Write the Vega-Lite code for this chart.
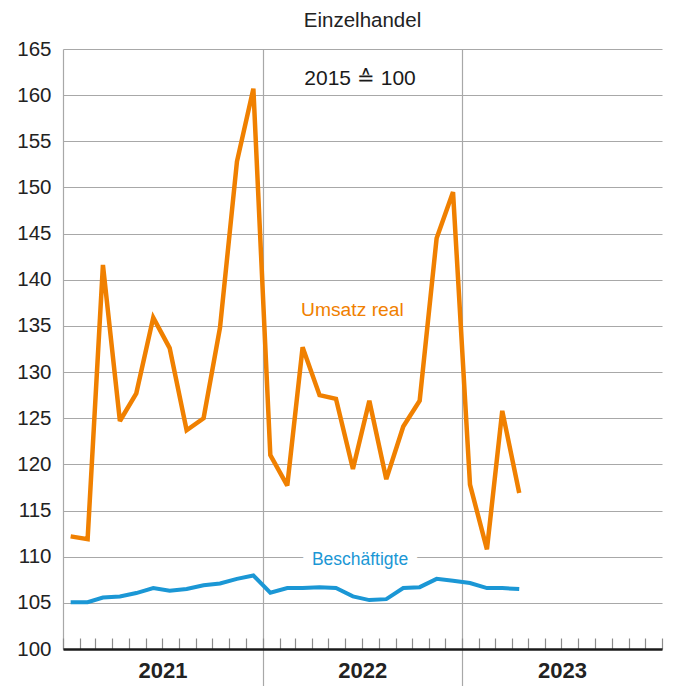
{
  "$schema": "https://vega.github.io/schema/vega-lite/v6.json",
  "width": 599,
  "height": 600,
  "autosize": {"type": "none"},
  "padding": {"left": 63, "top": 49, "right": 11, "bottom": 37},
  "background": "white",
  "config": {"font": "Liberation Sans", "view": {"stroke": null}},
  "title": {"text": "Einzelhandel", "anchor": "middle", "fontSize": 20.5, "fontWeight": "normal", "color": "#222", "offset": 8, "font": "Liberation Sans"},
  "datasets": {
    "series": [
      {"date": "2021-01-15", "umsatz": 112.2, "besch": 105.07},
      {"date": "2021-02-15", "umsatz": 111.9, "besch": 105.07},
      {"date": "2021-03-15", "umsatz": 141.6, "besch": 105.58},
      {"date": "2021-04-15", "umsatz": 124.7, "besch": 105.69},
      {"date": "2021-05-15", "umsatz": 127.7, "besch": 106.06},
      {"date": "2021-06-15", "umsatz": 135.9, "besch": 106.6},
      {"date": "2021-07-15", "umsatz": 132.6, "besch": 106.3},
      {"date": "2021-08-15", "umsatz": 123.7, "besch": 106.5},
      {"date": "2021-09-15", "umsatz": 125.0, "besch": 106.9},
      {"date": "2021-10-15", "umsatz": 134.8, "besch": 107.1},
      {"date": "2021-11-15", "umsatz": 152.8, "besch": 107.6},
      {"date": "2021-12-15", "umsatz": 160.7, "besch": 107.96},
      {"date": "2022-01-15", "umsatz": 121.0, "besch": 106.1},
      {"date": "2022-02-15", "umsatz": 117.7, "besch": 106.6},
      {"date": "2022-03-15", "umsatz": 132.7, "besch": 106.6},
      {"date": "2022-04-15", "umsatz": 127.5, "besch": 106.7},
      {"date": "2022-05-15", "umsatz": 127.1, "besch": 106.6},
      {"date": "2022-06-15", "umsatz": 119.5, "besch": 105.7},
      {"date": "2022-07-15", "umsatz": 126.9, "besch": 105.3},
      {"date": "2022-08-15", "umsatz": 118.4, "besch": 105.4},
      {"date": "2022-09-15", "umsatz": 124.1, "besch": 106.6},
      {"date": "2022-10-15", "umsatz": 126.9, "besch": 106.7},
      {"date": "2022-11-15", "umsatz": 144.5, "besch": 107.6},
      {"date": "2022-12-15", "umsatz": 149.5, "besch": 107.4},
      {"date": "2023-01-15", "umsatz": 117.8, "besch": 107.15},
      {"date": "2023-02-15", "umsatz": 110.8, "besch": 106.6},
      {"date": "2023-03-15", "umsatz": 125.8, "besch": 106.6},
      {"date": "2023-04-15", "umsatz": 116.9, "besch": 106.5}
    ],
    "notes": [
      {"date": "2022-06-28", "value": 161.7, "label": "2015 ≙ 100", "kind": "base"},
      {"date": "2022-06-14", "value": 136.7, "label": "Umsatz real", "kind": "umsatz"},
      {"date": "2022-06-28", "value": 109.64, "label": "Beschäftigte", "kind": "besch"}
    ]
  },
  "resolve": {"axis": {"x": "independent"}},
  "layer": [
    {
      "data": {"name": "series"},
      "mark": {"type": "line", "color": "#F08000", "strokeWidth": 4.5, "strokeJoin": "miter", "strokeMiterLimit": 3},
      "encoding": {
        "x": {
          "field": "date", "type": "temporal",
          "scale": {"domain": [{"year": 2021, "month": 1, "date": 1}, {"year": 2024, "month": 1, "date": 1}], "nice": false},
          "axis": {"orient": "bottom", "title": null, "labels": false, "grid": false, "tickCount": {"interval": "month", "step": 1}, "tickSize": -11, "tickColor": "#8c8c8c", "tickWidth": 1.2, "domain": true, "domainColor": "#1a1a1a", "domainWidth": 2.6, "zindex": 1}
        },
        "y": {
          "field": "umsatz", "type": "quantitative",
          "scale": {"domain": [100, 165], "nice": false, "zero": false},
          "axis": {"title": null, "values": [100, 105, 110, 115, 120, 125, 130, 135, 140, 145, 150, 155, 160, 165], "grid": true, "gridColor": "#a8a8a8", "gridWidth": 1.2, "domain": true, "domainColor": "#a8a8a8", "domainWidth": 1.2, "ticks": false, "labelFontSize": 20.5, "labelColor": "#222", "labelPadding": 12, "labelFont": "Liberation Sans"}
        }
      }
    },
    {
      "data": {"name": "series"},
      "mark": {"type": "line", "color": "#1B97D5", "strokeWidth": 4, "strokeJoin": "miter", "strokeMiterLimit": 3},
      "encoding": {
        "x": {
          "field": "date", "type": "temporal",
          "axis": {"orient": "bottom", "title": null, "labels": false, "values": [{"year": 2022, "month": 1, "date": 1}, {"year": 2023, "month": 1, "date": 1}], "grid": true, "gridColor": "#a8a8a8", "gridWidth": 1.2, "tickSize": 37, "tickColor": "#a8a8a8", "tickWidth": 1.2, "domain": false}
        },
        "y": {"field": "besch", "type": "quantitative"}
      }
    },
    {
      "data": {"name": "notes"},
      "transform": [{"filter": "datum.kind == 'besch'"}],
      "mark": {"type": "text", "fontSize": 19, "stroke": "white", "strokeWidth": 12, "fill": "white", "align": "center", "baseline": "middle", "font": "Liberation Sans"},
      "encoding": {
        "x": {"field": "date", "type": "temporal", "axis": {"orient": "bottom", "title": null, "values": [{"year": 2021, "month": 7, "date": 2}, {"year": 2022, "month": 7, "date": 2}, {"year": 2023, "month": 7, "date": 2}], "format": "%Y", "labelFontWeight": "bold", "labelFontSize": 22, "labelColor": "#222", "ticks": false, "domain": false, "grid": false, "labelPadding": 11, "labelFont": "Liberation Sans"}},
        "y": {"field": "value", "type": "quantitative"},
        "text": {"field": "label"}
      }
    },
    {
      "data": {"name": "notes"},
      "mark": {"type": "text", "align": "center", "baseline": "middle", "font": "Liberation Sans"},
      "encoding": {
        "x": {"field": "date", "type": "temporal", "axis": null},
        "y": {"field": "value", "type": "quantitative"},
        "text": {"field": "label"},
        "color": {"field": "kind", "type": "nominal", "scale": {"domain": ["base", "umsatz", "besch"], "range": ["#1a1a1a", "#F08000", "#1B97D5"]}, "legend": null},
        "size": {"field": "kind", "type": "nominal", "scale": {"domain": ["base", "umsatz", "besch"], "range": [21, 17.5, 19]}, "legend": null}
      }
    }
  ]
}
